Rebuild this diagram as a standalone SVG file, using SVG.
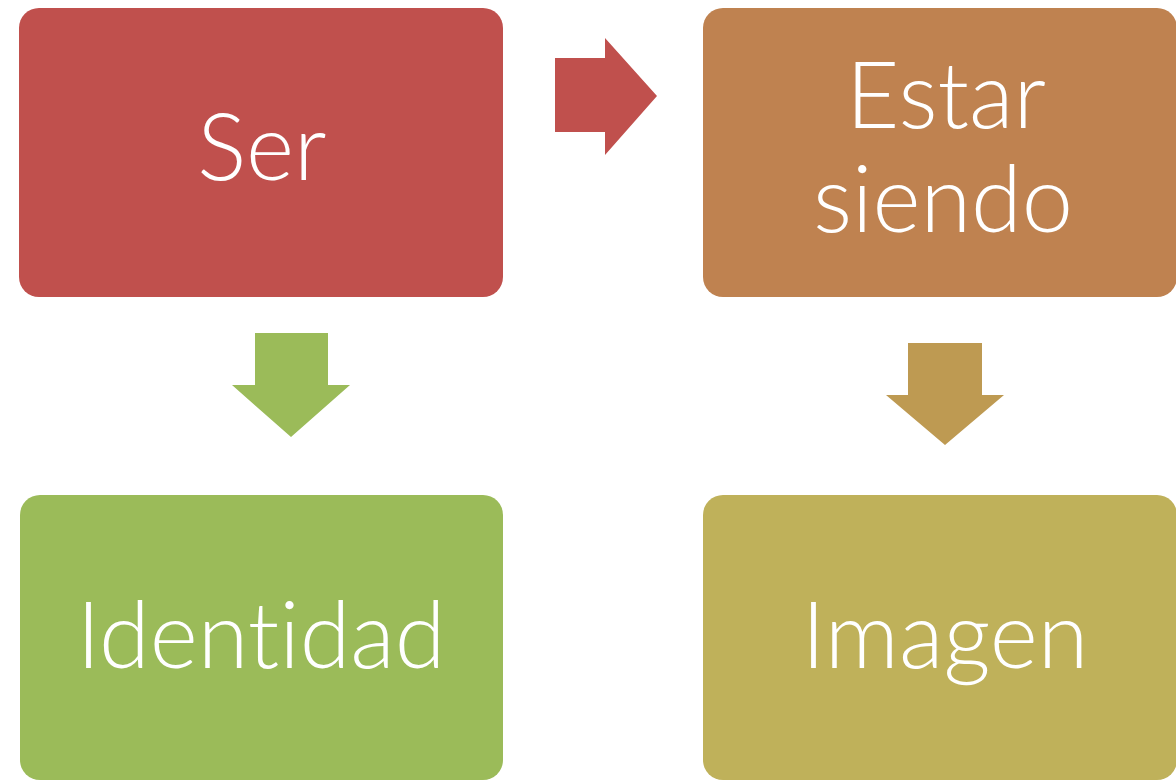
<svg xmlns="http://www.w3.org/2000/svg" width="1176" height="782" viewBox="0 0 1176 782">
<style>
.lbl{font-family:Lato,"Open Sans","Liberation Sans",sans-serif;font-weight:300;fill:#ffffff;text-anchor:middle;font-size:92px;font-variant-ligatures:none;font-feature-settings:"liga" 0}
</style>
<rect width="1176" height="782" fill="#ffffff"/>
<g id="connectors">
<polygon id="a1" points="555,58 605,58 605,38 657,96 605,155 605,132 555,132" fill="#C0504D"/>
<polygon id="a2" points="255,333 328,333 328,385 350,385 291,437 232,385 255,385" fill="#9BBB59"/>
<polygon id="a3" points="908,343 982,343 982,395 1004,395 945,445 886,395 908,395" fill="#BE9A52"/>
</g>
<g id="n-ser">
<rect x="19" y="8" width="484" height="289" rx="20" fill="#C0504D"/>
<text class="lbl" x="262" y="180">Ser</text>
</g>
<g id="n-estar">
<rect x="703" y="8" width="474" height="289" rx="20" fill="#BF8250"/>
<text class="lbl" x="946" y="128">Estar</text>
<text class="lbl" x="943" y="232">siendo</text>
</g>
<g id="n-identidad">
<rect x="20" y="495" width="483" height="285" rx="20" fill="#9BBB59"/>
<text class="lbl" x="261" y="668">Identidad</text>
</g>
<g id="n-imagen">
<rect x="703" y="495" width="474" height="285" rx="20" fill="#BFB15A"/>
<text class="lbl" x="945" y="668">Imagen</text>
</g>
</svg>
